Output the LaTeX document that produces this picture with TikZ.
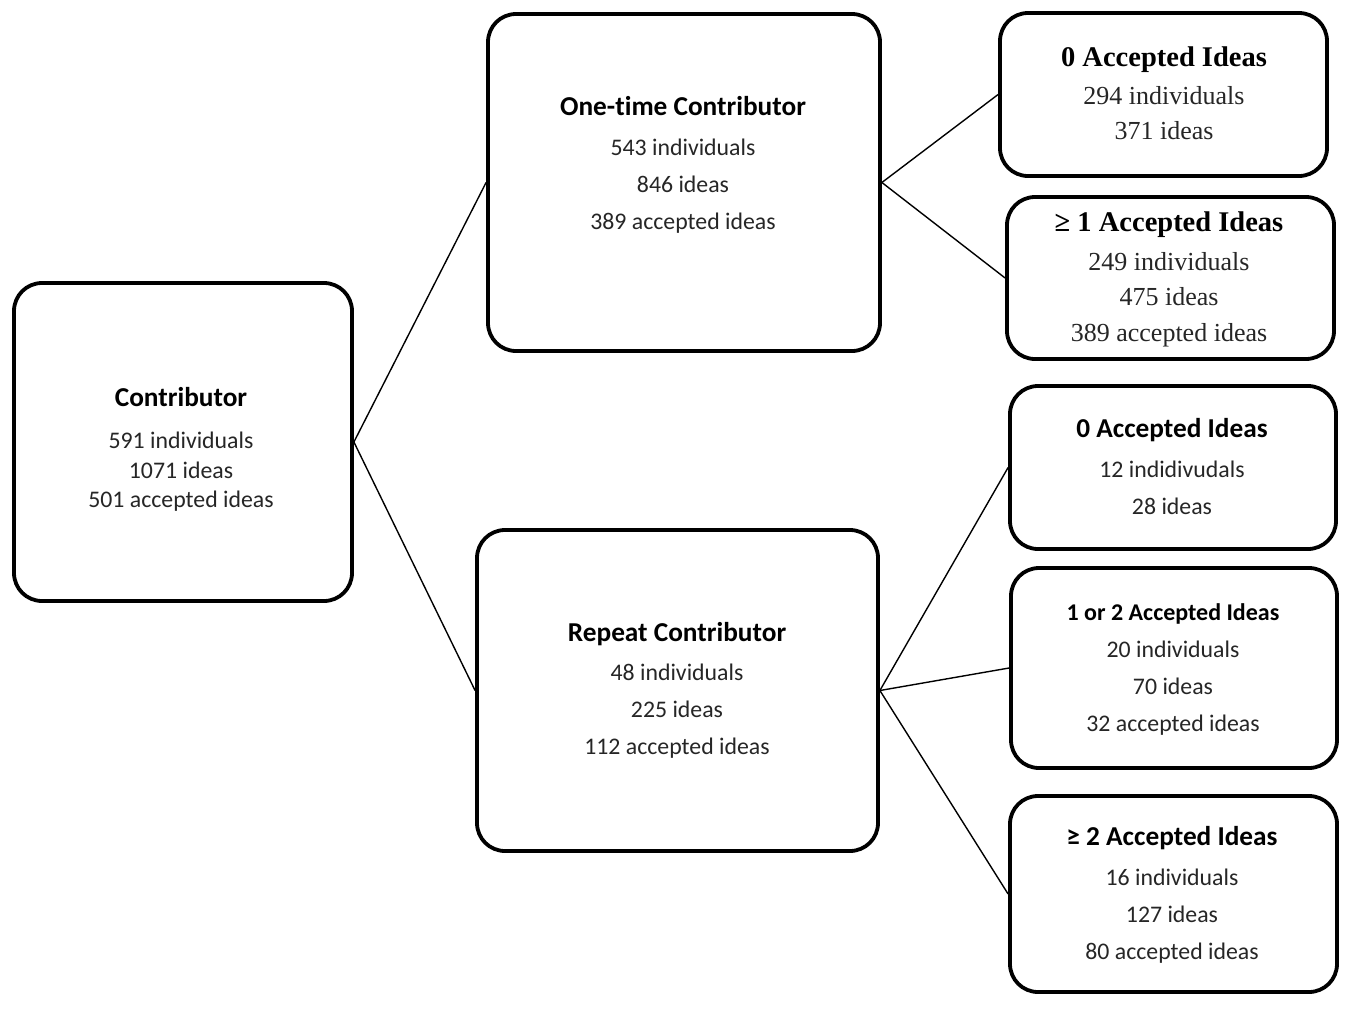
\documentclass[tikz,border=0pt]{standalone}
\usepackage{fontspec}
\setmainfont{Carlito}[Ligatures=NoCommon]
\newfontfamily\serifx{Liberation Serif}
\begin{document}
\begin{tikzpicture}[x=1pt,y=-1pt,
  box/.style={draw, line width=3.8pt, rounded corners=28pt, fill=white, inner sep=0pt},
  conn/.style={draw, line width=1.4pt},
  txt/.style={inner sep=0pt, text height=0.7em, text depth=0.2em, text=black!85, yshift=-6.5pt},
  ttl/.style={txt, font=\fontsize{27.3}{32}\selectfont\bfseries, text=black},
  ttls/.style={txt, font=\fontsize{24}{29}\selectfont\bfseries, text=black},
  bdy/.style={txt, font=\fontsize{23.8}{28}\selectfont},
  sttl/.style={txt, font=\serifx\fontsize{28.5}{32}\selectfont\bfseries, text=black},
  sbdy/.style={txt, font=\serifx\fontsize{26}{30}\selectfont}]
\useasboundingbox[fill=white] (0,0) rectangle (1353,1021);

% boxes
\node[box, minimum width=338pt, minimum height=318pt] (contrib) at (183,442) {};
\node[box, minimum width=392pt, minimum height=337pt] (onetime) at (684,182.5) {};
\node[box, minimum width=401pt, minimum height=321pt] (repeat) at (677.5,690.5) {};
\node[box, minimum width=327pt, minimum height=163pt] (ot0) at (1163.5,94.5) {};
\node[box, minimum width=327pt, minimum height=162pt] (ot1) at (1170.5,278) {};
\node[box, minimum width=326pt, minimum height=163pt] (rp0) at (1173,467.5) {};
\node[box, minimum width=326pt, minimum height=200pt] (rp12) at (1174,668) {};
\node[box, minimum width=327pt, minimum height=196pt] (rp2) at (1173.5,894) {};

% connectors
\draw[conn] (contrib.east) -- (onetime.west);
\draw[conn] (contrib.east) -- (repeat.west);
\draw[conn] (onetime.east) -- (ot0.west);
\draw[conn] (onetime.east) -- (ot1.west);
\draw[conn] (repeat.east) -- (rp0.west);
\draw[conn] (repeat.east) -- (rp12.west);
\draw[conn] (repeat.east) -- (rp2.west);

% texts: Contributor
\node[ttl] (contrib-t) at (181,397) {Contributor};
\node[bdy] (contrib-a) at (181,439) {591 individuals};
\node[bdy] (contrib-b) at (181,469) {1071 ideas};
\node[bdy] (contrib-c) at (181,498) {501 accepted ideas};

% One-time
\node[ttl] (onetime-t) at (683,106) {One-time Contributor};
\node[bdy] (onetime-a) at (683,146) {543 individuals};
\node[bdy] (onetime-b) at (683,183) {846 ideas};
\node[bdy] (onetime-c) at (683,220) {389 accepted ideas};

% Repeat
\node[ttl] (repeat-t) at (677,632) {Repeat Contributor};
\node[bdy] (repeat-a) at (677,671) {48 individuals};
\node[bdy] (repeat-b) at (677,708) {225 ideas};
\node[bdy] (repeat-c) at (677,745) {112 accepted ideas};

% ot0 (serif)
\node[sttl] (ot0-t) at (1164,57) {0 Accepted Ideas};
\node[sbdy] (ot0-a) at (1164,95) {294 individuals};
\node[sbdy] (ot0-b) at (1164,130) {371 ideas};

% ot1 (serif)
\node[sttl] (ot1-t) at (1169,222) {≥ 1 Accepted Ideas};
\node[sbdy] (ot1-a) at (1169,261) {249 individuals};
\node[sbdy] (ot1-b) at (1169,296) {475 ideas};
\node[sbdy] (ot1-c) at (1169,332) {389 accepted ideas};

% rp0
\node[ttl] (rp0-t) at (1172,428) {0 Accepted Ideas};
\node[bdy] (rp0-a) at (1172,468) {12 indidivudals};
\node[bdy] (rp0-b) at (1172,505) {28 ideas};

% rp12
\node[ttls] (rp12-t) at (1173,611) {1 or 2 Accepted Ideas};
\node[bdy] (rp12-a) at (1173,648) {20 individuals};
\node[bdy] (rp12-b) at (1173,685) {70 ideas};
\node[bdy] (rp12-c) at (1173,722) {32 accepted ideas};

% rp2
\node[ttl] (rp2-t) at (1172,836) {≥ 2 Accepted Ideas};
\node[bdy] (rp2-a) at (1172,876) {16 individuals};
\node[bdy] (rp2-b) at (1172,913) {127 ideas};
\node[bdy] (rp2-c) at (1172,950) {80 accepted ideas};
\end{tikzpicture}
\end{document}
